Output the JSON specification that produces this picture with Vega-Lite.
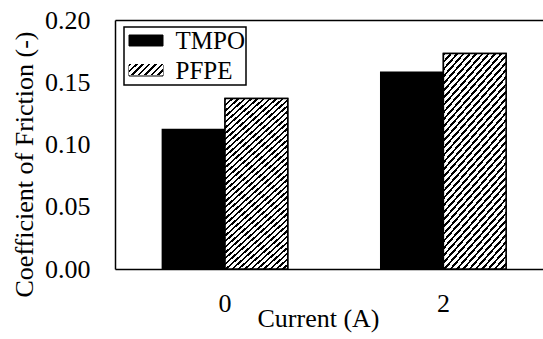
{
  "$schema": "https://vega.github.io/schema/vega-lite/v6.json",
  "autosize": {"type": "none"},
  "padding": {"left": 115, "top": 20, "right": 0, "bottom": 70},
  "width": 428,
  "height": 249,
  "background": "white",
  "data": {
    "values": [
      {"current": "0", "series": "TMPO", "cof": 0.112},
      {"current": "0", "series": "PFPE", "cof": 0.137},
      {"current": "2", "series": "TMPO", "cof": 0.158},
      {"current": "2", "series": "PFPE", "cof": 0.173}
    ]
  },
  "encoding": {
    "x": {
      "field": "current",
      "type": "nominal",
      "sort": ["0", "2"],
      "scale": {"paddingInner": 0.426, "paddingOuter": 0.193, "align": 0.562},
      "axis": {
        "title": "Current (A)",
        "labelAngle": 0,
        "ticks": false,
        "domain": true,
        "domainColor": "black",
        "domainWidth": 1.5,
        "labelPadding": 21,
        "labelFontSize": 26,
        "labelColor": "black",
        "titleFontSize": 26,
        "titleFontWeight": "normal",
        "titleColor": "black",
        "titleX": 203,
        "titleY": 57,
        "titleAlign": "center",
        "titleBaseline": "alphabetic"
      }
    },
    "xOffset": {"field": "series", "type": "nominal", "scale": {"domain": ["TMPO", "PFPE"], "paddingInner": 0, "paddingOuter": 0}},
    "y": {
      "field": "cof",
      "type": "quantitative",
      "scale": {"domain": [0, 0.2], "nice": false},
      "axis": {
        "title": "Coefficient of Friction (-)",
        "values": [0, 0.05, 0.1, 0.15, 0.2],
        "format": ".2f",
        "ticks": false,
        "domain": true,
        "domainColor": "black",
        "domainWidth": 1.5,
        "grid": true,
        "gridColor": "black",
        "gridWidth": 1.5,
        "gridOpacity": {"condition": {"test": "datum.value >= 0.2", "value": 1}, "value": 0},
        "labelPadding": 25,
        "labelFontSize": 26,
        "labelColor": "black",
        "titleFontSize": 26,
        "titleFontWeight": "normal",
        "titleColor": "black",
        "titleX": -83,
        "titleY": 144,
        "titleAlign": "center",
        "titleBaseline": "alphabetic",
        "titleAngle": -90
      }
    }
  },
  "layer": [
    {
      "mark": {"type": "bar", "stroke": "black", "strokeWidth": 1.5},
      "encoding": {
        "fill": {
          "field": "series",
          "type": "nominal",
          "scale": {"domain": ["TMPO", "PFPE"], "range": ["black", "transparent"]},
          "legend": {
            "title": null,
            "orient": "none",
            "legendX": 9,
            "legendY": 7,
            "strokeColor": "black",
            "padding": 1,
            "rowPadding": 4,
            "symbolType": "M-1.4167,-0.458L1.4167,-0.458L1.4167,0.458L-1.4167,0.458Z",
            "symbolSize": 576,
            "symbolStrokeColor": "black",
            "symbolStrokeWidth": 1,
            "symbolOffset": 8.5,
            "labelOffset": 17,
            "labelFontSize": 25,
            "labelColor": "black",
            "labelLimit": 300,
            "labelExpr": "datum.label + ' '"
          }
        }
      }
    },
    {
      "transform": [{"filter": "datum.series === 'PFPE'"}],
      "mark": {
        "type": "bar",
        "stroke": "black",
        "strokeWidth": 1.5,
        "fill": {
          "gradient": "linear",
          "x1": 0, "y1": 0, "x2": 0.396, "y2": 1.2,
          "stops": [
            {"offset": 0, "color": "black"}, {"offset": 0.01, "color": "black"}, {"offset": 0.01, "color": "white"}, {"offset": 0.025, "color": "white"},
            {"offset": 0.025, "color": "black"}, {"offset": 0.035, "color": "black"}, {"offset": 0.035, "color": "white"}, {"offset": 0.05, "color": "white"},
            {"offset": 0.05, "color": "black"}, {"offset": 0.06, "color": "black"}, {"offset": 0.06, "color": "white"}, {"offset": 0.075, "color": "white"},
            {"offset": 0.075, "color": "black"}, {"offset": 0.085, "color": "black"}, {"offset": 0.085, "color": "white"}, {"offset": 0.1, "color": "white"},
            {"offset": 0.1, "color": "black"}, {"offset": 0.11, "color": "black"}, {"offset": 0.11, "color": "white"}, {"offset": 0.125, "color": "white"},
            {"offset": 0.125, "color": "black"}, {"offset": 0.135, "color": "black"}, {"offset": 0.135, "color": "white"}, {"offset": 0.15, "color": "white"},
            {"offset": 0.15, "color": "black"}, {"offset": 0.16, "color": "black"}, {"offset": 0.16, "color": "white"}, {"offset": 0.175, "color": "white"},
            {"offset": 0.175, "color": "black"}, {"offset": 0.185, "color": "black"}, {"offset": 0.185, "color": "white"}, {"offset": 0.2, "color": "white"},
            {"offset": 0.2, "color": "black"}, {"offset": 0.21, "color": "black"}, {"offset": 0.21, "color": "white"}, {"offset": 0.225, "color": "white"},
            {"offset": 0.225, "color": "black"}, {"offset": 0.235, "color": "black"}, {"offset": 0.235, "color": "white"}, {"offset": 0.25, "color": "white"},
            {"offset": 0.25, "color": "black"}, {"offset": 0.26, "color": "black"}, {"offset": 0.26, "color": "white"}, {"offset": 0.275, "color": "white"},
            {"offset": 0.275, "color": "black"}, {"offset": 0.285, "color": "black"}, {"offset": 0.285, "color": "white"}, {"offset": 0.3, "color": "white"},
            {"offset": 0.3, "color": "black"}, {"offset": 0.31, "color": "black"}, {"offset": 0.31, "color": "white"}, {"offset": 0.325, "color": "white"},
            {"offset": 0.325, "color": "black"}, {"offset": 0.335, "color": "black"}, {"offset": 0.335, "color": "white"}, {"offset": 0.35, "color": "white"},
            {"offset": 0.35, "color": "black"}, {"offset": 0.36, "color": "black"}, {"offset": 0.36, "color": "white"}, {"offset": 0.375, "color": "white"},
            {"offset": 0.375, "color": "black"}, {"offset": 0.385, "color": "black"}, {"offset": 0.385, "color": "white"}, {"offset": 0.4, "color": "white"},
            {"offset": 0.4, "color": "black"}, {"offset": 0.41, "color": "black"}, {"offset": 0.41, "color": "white"}, {"offset": 0.425, "color": "white"},
            {"offset": 0.425, "color": "black"}, {"offset": 0.435, "color": "black"}, {"offset": 0.435, "color": "white"}, {"offset": 0.45, "color": "white"},
            {"offset": 0.45, "color": "black"}, {"offset": 0.46, "color": "black"}, {"offset": 0.46, "color": "white"}, {"offset": 0.475, "color": "white"},
            {"offset": 0.475, "color": "black"}, {"offset": 0.485, "color": "black"}, {"offset": 0.485, "color": "white"}, {"offset": 0.5, "color": "white"},
            {"offset": 0.5, "color": "black"}, {"offset": 0.51, "color": "black"}, {"offset": 0.51, "color": "white"}, {"offset": 0.525, "color": "white"},
            {"offset": 0.525, "color": "black"}, {"offset": 0.535, "color": "black"}, {"offset": 0.535, "color": "white"}, {"offset": 0.55, "color": "white"},
            {"offset": 0.55, "color": "black"}, {"offset": 0.56, "color": "black"}, {"offset": 0.56, "color": "white"}, {"offset": 0.575, "color": "white"},
            {"offset": 0.575, "color": "black"}, {"offset": 0.585, "color": "black"}, {"offset": 0.585, "color": "white"}, {"offset": 0.6, "color": "white"},
            {"offset": 0.6, "color": "black"}, {"offset": 0.61, "color": "black"}, {"offset": 0.61, "color": "white"}, {"offset": 0.625, "color": "white"},
            {"offset": 0.625, "color": "black"}, {"offset": 0.635, "color": "black"}, {"offset": 0.635, "color": "white"}, {"offset": 0.65, "color": "white"},
            {"offset": 0.65, "color": "black"}, {"offset": 0.66, "color": "black"}, {"offset": 0.66, "color": "white"}, {"offset": 0.675, "color": "white"},
            {"offset": 0.675, "color": "black"}, {"offset": 0.685, "color": "black"}, {"offset": 0.685, "color": "white"}, {"offset": 0.7, "color": "white"},
            {"offset": 0.7, "color": "black"}, {"offset": 0.71, "color": "black"}, {"offset": 0.71, "color": "white"}, {"offset": 0.725, "color": "white"},
            {"offset": 0.725, "color": "black"}, {"offset": 0.735, "color": "black"}, {"offset": 0.735, "color": "white"}, {"offset": 0.75, "color": "white"},
            {"offset": 0.75, "color": "black"}, {"offset": 0.76, "color": "black"}, {"offset": 0.76, "color": "white"}, {"offset": 0.775, "color": "white"},
            {"offset": 0.775, "color": "black"}, {"offset": 0.785, "color": "black"}, {"offset": 0.785, "color": "white"}, {"offset": 0.8, "color": "white"},
            {"offset": 0.8, "color": "black"}, {"offset": 0.81, "color": "black"}, {"offset": 0.81, "color": "white"}, {"offset": 0.825, "color": "white"},
            {"offset": 0.825, "color": "black"}, {"offset": 0.835, "color": "black"}, {"offset": 0.835, "color": "white"}, {"offset": 0.85, "color": "white"},
            {"offset": 0.85, "color": "black"}, {"offset": 0.86, "color": "black"}, {"offset": 0.86, "color": "white"}, {"offset": 0.875, "color": "white"},
            {"offset": 0.875, "color": "black"}, {"offset": 0.885, "color": "black"}, {"offset": 0.885, "color": "white"}, {"offset": 0.9, "color": "white"},
            {"offset": 0.9, "color": "black"}, {"offset": 0.91, "color": "black"}, {"offset": 0.91, "color": "white"}, {"offset": 0.925, "color": "white"},
            {"offset": 0.925, "color": "black"}, {"offset": 0.935, "color": "black"}, {"offset": 0.935, "color": "white"}, {"offset": 0.95, "color": "white"},
            {"offset": 0.95, "color": "black"}, {"offset": 0.96, "color": "black"}, {"offset": 0.96, "color": "white"}, {"offset": 0.975, "color": "white"},
            {"offset": 0.975, "color": "black"}, {"offset": 0.985, "color": "black"}, {"offset": 0.985, "color": "white"}, {"offset": 1, "color": "white"}
          ]
        }
      },
      "encoding": {}
    },
    {
      "transform": [{"filter": "false"}],
      "mark": {
        "type": "bar",
        "stroke": "black",
        "strokeWidth": 1,
        "fill": {
          "gradient": "linear",
          "x1": 0, "y1": 0, "x2": 1.198, "y2": 0.388,
          "stops": [
            {"offset": 0, "color": "black"}, {"offset": 0.057, "color": "black"}, {"offset": 0.057, "color": "white"}, {"offset": 0.1429, "color": "white"},
            {"offset": 0.1429, "color": "black"}, {"offset": 0.2, "color": "black"}, {"offset": 0.2, "color": "white"}, {"offset": 0.2857, "color": "white"},
            {"offset": 0.2857, "color": "black"}, {"offset": 0.3427, "color": "black"}, {"offset": 0.3427, "color": "white"}, {"offset": 0.4286, "color": "white"},
            {"offset": 0.4286, "color": "black"}, {"offset": 0.4856, "color": "black"}, {"offset": 0.4856, "color": "white"}, {"offset": 0.5714, "color": "white"},
            {"offset": 0.5714, "color": "black"}, {"offset": 0.6284, "color": "black"}, {"offset": 0.6284, "color": "white"}, {"offset": 0.7143, "color": "white"},
            {"offset": 0.7143, "color": "black"}, {"offset": 0.7713, "color": "black"}, {"offset": 0.7713, "color": "white"}, {"offset": 0.8571, "color": "white"},
            {"offset": 0.8571, "color": "black"}, {"offset": 0.9141, "color": "black"}, {"offset": 0.9141, "color": "white"}, {"offset": 1, "color": "white"}
          ]
        }
      },
      "encoding": {
        "strokeDash": {
          "field": "series",
          "type": "nominal",
          "scale": {"domain": ["PFPE"], "range": [[1, 0]]},
          "legend": {
            "title": null,
            "orient": "none",
            "legendX": 9,
            "legendY": 36,
            "strokeColor": "transparent",
            "padding": 1,
            "rowPadding": 4,
            "symbolType": "M-1.4167,-0.458L1.4167,-0.458L1.4167,0.458L-1.4167,0.458Z",
            "symbolSize": 576,
            "symbolStrokeColor": "black",
            "symbolStrokeWidth": 1,
            "symbolOffset": 8.5,
            "labelOffset": 17,
            "labelFontSize": 25,
            "labelColor": "black",
            "labelOpacity": 0,
            "labelLimit": 300,
            "labelExpr": "datum.label + ' '"
          }
        }
      }
    }
  ],
  "config": {
    "font": "'Times New Roman', 'Liberation Serif', serif",
    "axis": {
      "labelFont": "'Times New Roman', 'Liberation Serif', serif",
      "titleFont": "'Times New Roman', 'Liberation Serif', serif"
    },
    "legend": {
      "strokeWidth": 1.5,
      "labelFont": "'Times New Roman', 'Liberation Serif', serif"
    },
    "view": {"stroke": null}
  }
}
